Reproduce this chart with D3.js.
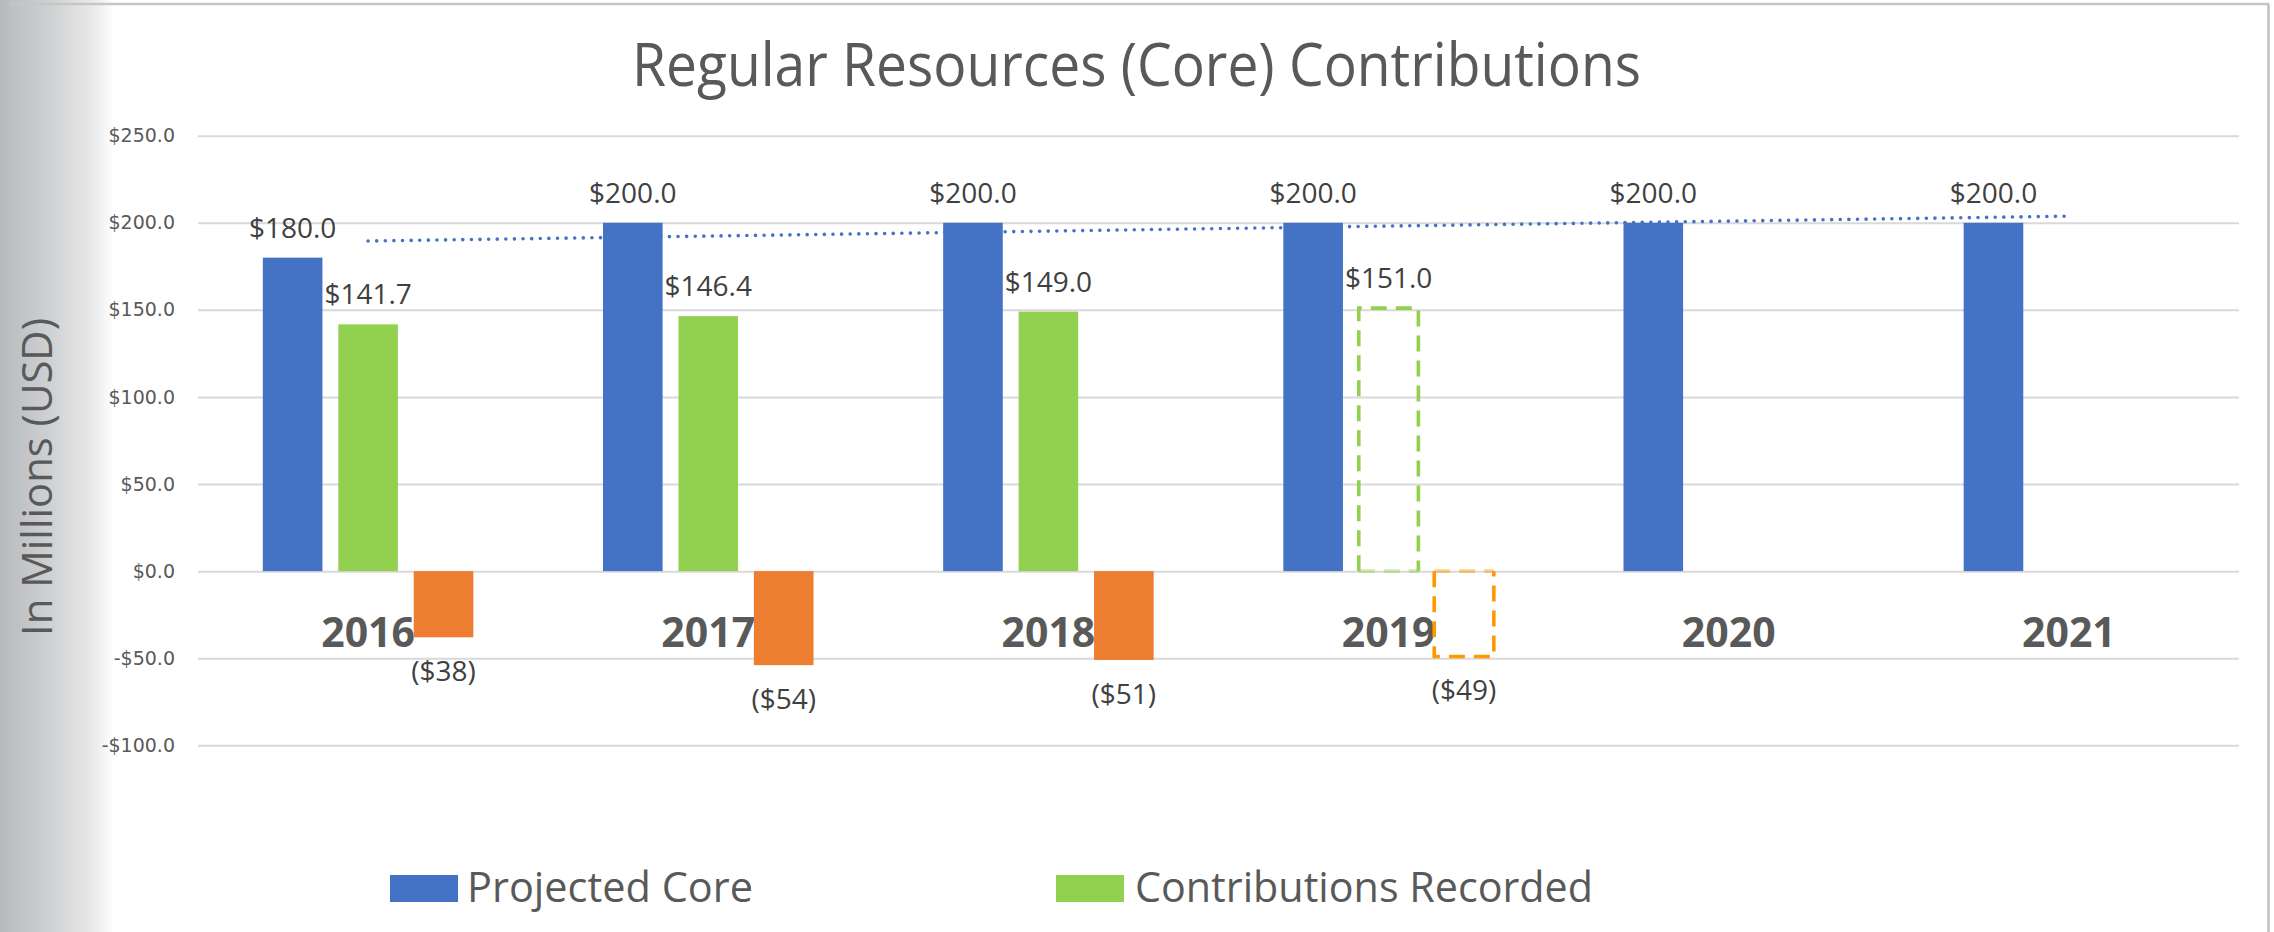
<!DOCTYPE html>
<html>
    <head>
        <title>Regular Resources (Core) Contributions</title>
        <script type="text/javascript" src="https://cdn.jsdelivr.net/npm/d3@7"></script>
        <style>
            body { margin: 0; background: #fff; }
            text { font-family: "Open Sans", sans-serif; }
        </style>
    </head>
    <body>
        <script type="text/javascript">
            // data
            let years = ["2016","2017","2018","2019","2020","2021"]
            let projectedCore = [180, 200, 200, 200, 200, 200]
            let contributionsRecorded = [141.7, 146.4, 149.0, 151.0, null, null]
            let gap = [-38, -54, -51, -49, null, null]
            let estimated = ["2019"]   // drawn as dashed outlines
            let yTicks = [-100, -50, 0, 50, 100, 150, 200, 250]
            let seriesNames = ["Projected Core", "Contributions Recorded", "Gap"]

            // set up svg
            let w = 2274
            let h = 932
            let svg = d3.select("body")
                        .append("svg")
                        .attr("width", w)
                        .attr("height", h)

            // grey fade on the left edge
            let grad = svg.append("defs").append("linearGradient")
                          .attr("id", "fade")
                          .attr("x1", 0).attr("x2", 1).attr("y1", 0).attr("y2", 0)
            grad.append("stop").attr("offset", 0).attr("stop-color", "#b7babd")
            grad.append("stop").attr("offset", 0.45).attr("stop-color", "#cfd1d3")
            grad.append("stop").attr("offset", 0.8).attr("stop-color", "#e8e8e8")
            grad.append("stop").attr("offset", 1).attr("stop-color", "#ffffff")
            svg.append("rect")
                .attr("x", 0).attr("y", 0)
                .attr("width", 114).attr("height", h)
                .attr("fill", "url(#fade)")

            // frame
            svg.append("line")
                .attr("x1", 10).attr("x2", 2269)
                .attr("y1", 4).attr("y2", 4)
                .attr("stroke", "#c6c6c6").attr("stroke-width", 2.5)
            svg.append("line")
                .attr("x1", 2268.5).attr("x2", 2268.5)
                .attr("y1", 4).attr("y2", h)
                .attr("stroke", "#c0c0c0").attr("stroke-width", 2.5)

            // scales
            let left = 198, right = 2239
            let xScale = d3.scaleBand()
                            .domain(years)
                            .range([left, right])
                            .padding(0)
            let groupW = 210.5
            let sScale = d3.scaleBand()
                            .domain(seriesNames)
                            .range([0, groupW])
                            .paddingInner(0.21)
            let yScale = d3.scaleLinear()
                            .domain([-100, 250])
                            .range([745.3, 135.7])
            let barX = (year, s) => xScale(year) + (xScale.bandwidth() - groupW) / 2 + sScale(s)

            // gridlines + tick labels
            let yAxis = d3.axisLeft(yScale)
                            .tickValues(yTicks)
                            .tickSize(-(right - left))
                            .tickPadding(23)
                            .tickFormat(d => (d < 0 ? "-$" : "$") + d3.format(".1f")(Math.abs(d)))
            let gy = svg.append("g")
                .attr("transform", "translate(" + left + ",0)")
                .call(yAxis)
            gy.select(".domain").remove()
            gy.selectAll(".tick line").attr("stroke", "#d9d9d9").attr("stroke-width", 2)
            gy.selectAll(".tick text")
                .attr("fill", "#595959")
                .style("font-family", "'DejaVu Sans', sans-serif")
                .style("font-size", "19px")

            // title
            svg.append("text")
                .attr("x", 632).attr("y", 86)
                .attr("textLength", 1009)
                .attr("lengthAdjust", "spacingAndGlyphs")
                .attr("fill", "#595959")
                .style("font-size", "60px")
                .text("Regular Resources (Core) Contributions")

            // y axis title
            svg.append("text")
                .attr("transform", "translate(51.5,477) rotate(-90)")
                .attr("text-anchor", "middle")
                .attr("textLength", 318)
                .attr("lengthAdjust", "spacingAndGlyphs")
                .attr("fill", "#595959")
                .style("font-size", "42px")
                .text("In Millions (USD)")

            // category labels (sit under the bars)
            svg.selectAll(".cat")
                .data(years)
                .enter()
                .append("text")
                .attr("class", "cat")
                .attr("x", d => xScale(d) + xScale.bandwidth() / 2)
                .attr("y", 646.7)
                .attr("text-anchor", "middle")
                .attr("fill", "#595959")
                .style("font-size", "41px")
                .style("font-weight", "bold")
                .text(d => d)

            // linear trendline of projected core
            let xs = projectedCore.map((v, i) => i)
            let mx = d3.mean(xs), my = d3.mean(projectedCore)
            let slope = d3.sum(xs, i => (i - mx) * (projectedCore[i] - my)) / d3.sum(xs, i => (i - mx) * (i - mx))
            let icpt = my - slope * mx
            let cx = i => xScale(years[i]) + xScale.bandwidth() / 2
            svg.append("line")
                .attr("x1", cx(0)).attr("y1", yScale(icpt))
                .attr("x2", cx(years.length - 1)).attr("y2", yScale(icpt + slope * (years.length - 1)))
                .attr("stroke", "#4472c4")
                .attr("stroke-width", 3.6)
                .attr("stroke-linecap", "round")
                .attr("stroke-dasharray", "0.01 8.6")

            // bars
            let colors = {"Projected Core": "#4472c4", "Contributions Recorded": "#92d050", "Gap": "#ed7d31"}
            let dashColors = {"Contributions Recorded": "#92d050", "Gap": "#ff9900"}
            let bars = []
            years.forEach((yr, i) => {
                [projectedCore[i], contributionsRecorded[i], gap[i]].forEach((v, j) => {
                    if (v !== null) bars.push({year: yr, s: seriesNames[j], v: v})
                })
            })
            let solid = bars.filter(d => d.s === "Projected Core" || estimated.indexOf(d.year) < 0)
            let dashed = bars.filter(d => d.s !== "Projected Core" && estimated.indexOf(d.year) >= 0)

            svg.selectAll(".bar")
                .data(solid)
                .enter()
                .append("rect")
                .attr("class", "bar")
                .attr("x", d => barX(d.year, d.s))
                .attr("width", sScale.bandwidth())
                .attr("y", d => yScale(Math.max(0, d.v)))
                .attr("height", d => Math.abs(yScale(d.v) - yScale(0)))
                .attr("fill", d => colors[d.s])

            // estimated year: dashed outlines, edge on the zero line drawn faint
            dashed.forEach(d => {
                let x0 = barX(d.year, d.s), x1 = x0 + sScale.bandwidth()
                let yv = yScale(d.v), y0 = yScale(0)
                let c = dashColors[d.s]
                let path = d3.path()
                path.moveTo(x0, y0); path.lineTo(x0, yv); path.lineTo(x1, yv); path.lineTo(x1, y0)
                svg.append("path")
                    .attr("d", path.toString())
                    .attr("fill", "none")
                    .attr("stroke", c)
                    .attr("stroke-width", 3.6)
                    .attr("stroke-dasharray", "16 9")
                svg.append("line")
                    .attr("x1", x0).attr("x2", x1)
                    .attr("y1", y0).attr("y2", y0)
                    .attr("stroke", c)
                    .attr("stroke-opacity", 0.45)
                    .attr("stroke-width", 3.6)
                    .attr("stroke-dasharray", "16 9")
            })

            // data labels
            svg.selectAll(".lbl")
                .data(bars)
                .enter()
                .append("text")
                .attr("class", "lbl")
                .attr("x", d => barX(d.year, d.s) + sScale.bandwidth() / 2)
                .attr("y", d => d.v >= 0 ? yScale(d.v) - 20 : yScale(d.v) + 44)
                .attr("text-anchor", "middle")
                .attr("fill", "#404040")
                .style("font-size", "28px")
                .text(d => d.v >= 0 ? "$" + d3.format(".1f")(d.v) : "($" + Math.abs(d.v).toFixed(0) + ")")

            // legend
            let legend = [
                {name: "Projected Core", x: 390, tx: 467, tl: 286},
                {name: "Contributions Recorded", x: 1056, tx: 1135, tl: 458}
            ]
            legend.forEach(l => {
                svg.append("rect")
                    .attr("x", l.x).attr("y", 875)
                    .attr("width", 68).attr("height", 27)
                    .attr("fill", colors[l.name])
                svg.append("text")
                    .attr("x", l.tx).attr("y", 901.7)
                    .attr("textLength", l.tl)
                    .attr("lengthAdjust", "spacingAndGlyphs")
                    .attr("fill", "#595959")
                    .style("font-size", "42px")
                    .text(l.name)
            })
        </script>
    </body>
</html>
